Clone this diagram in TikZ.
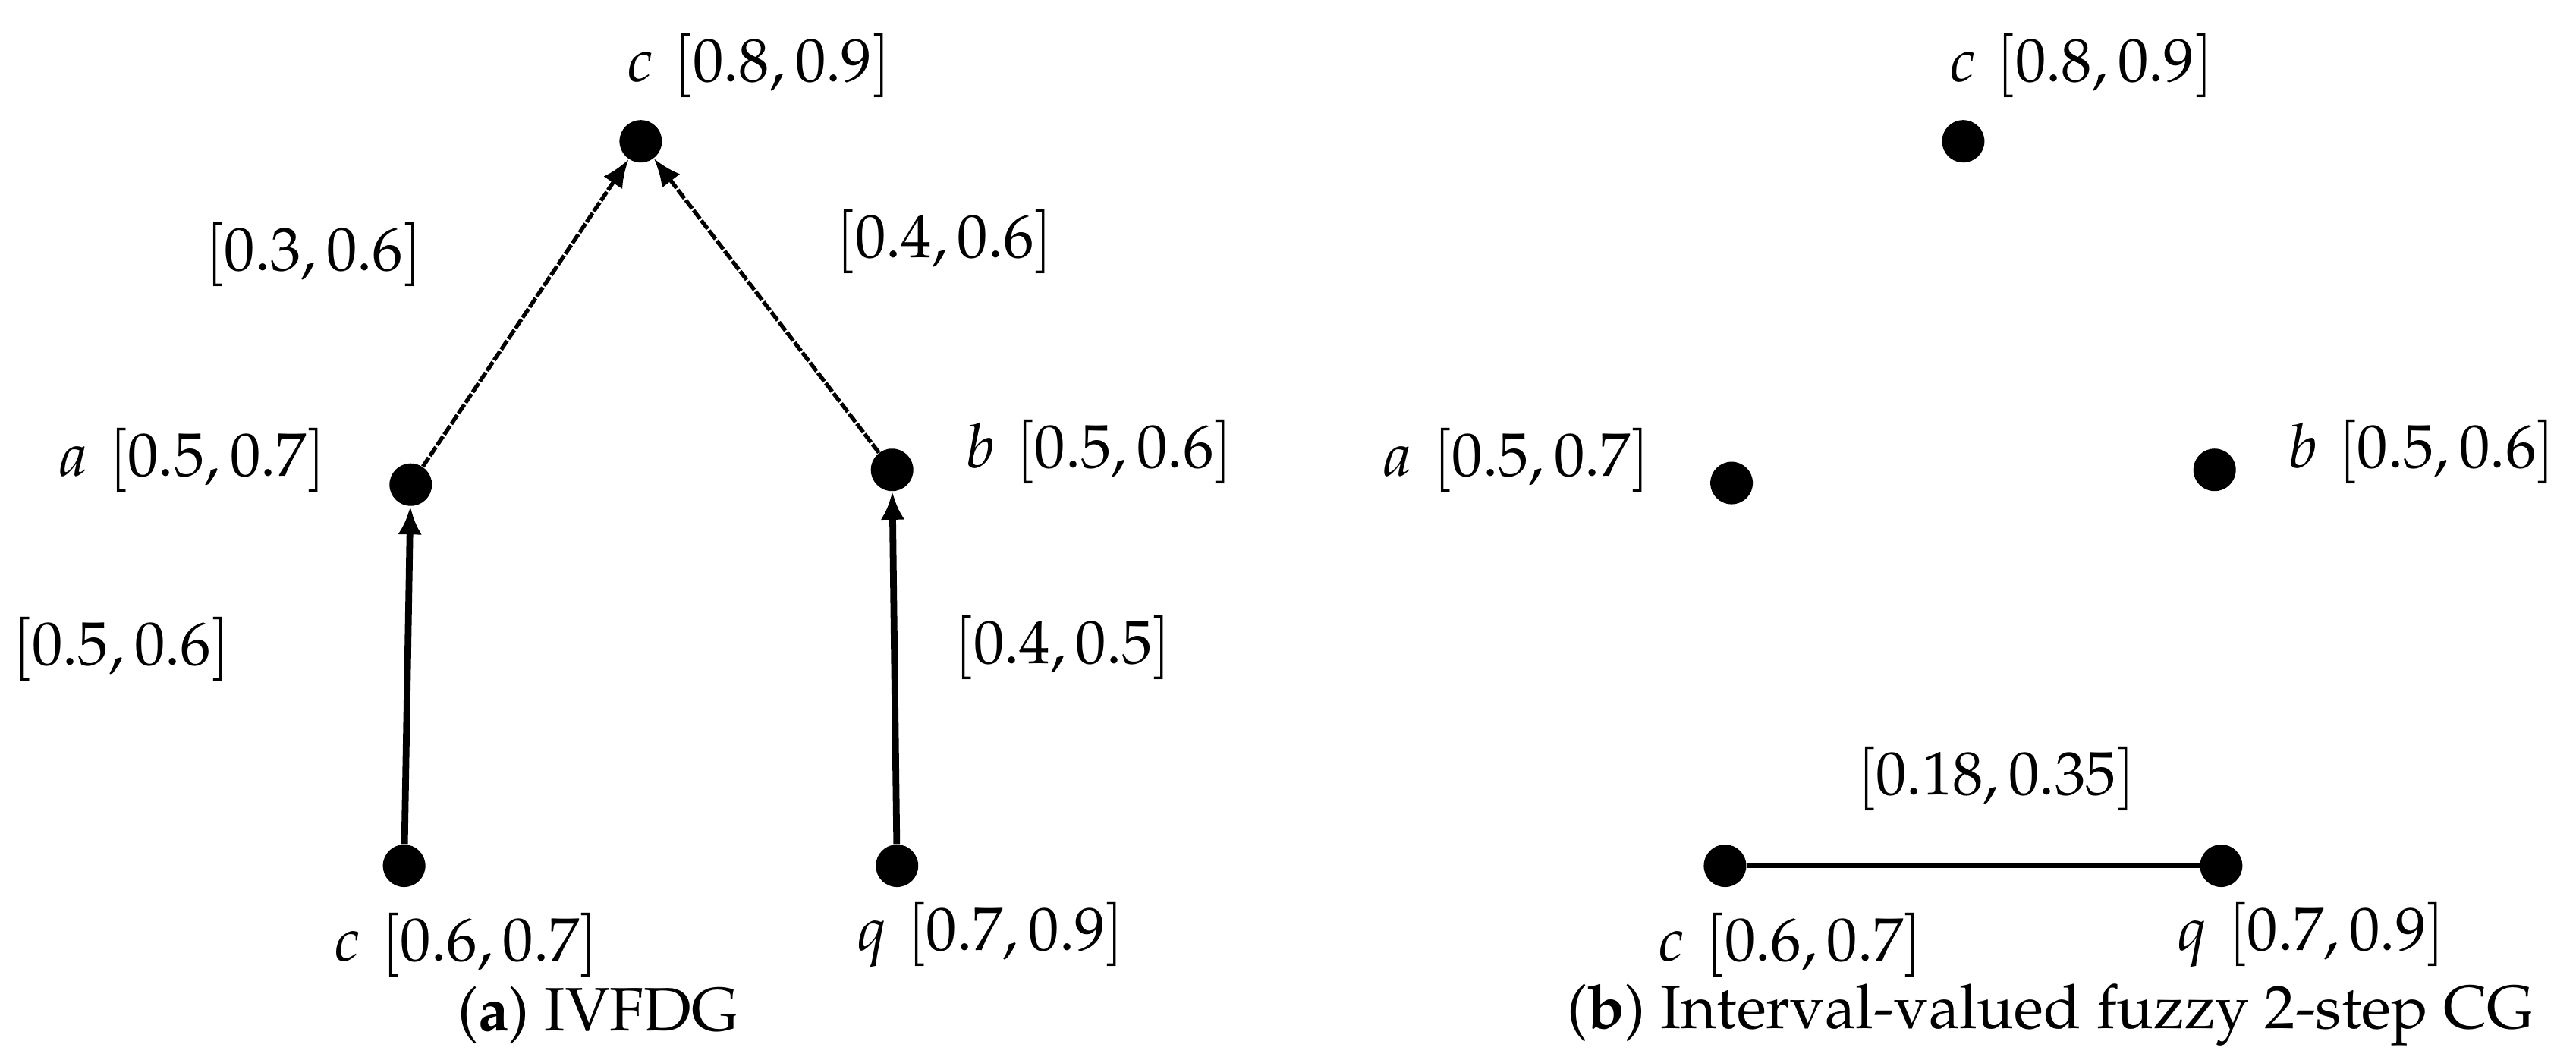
\documentclass[tikz,border=0pt]{standalone}
\usepackage[T1]{fontenc}
\usepackage{mathpazo}
\usetikzlibrary{arrows.meta}
\begin{document}
\begin{tikzpicture}[x=0.02165cm,y=-0.02165cm,
  dot/.style={circle,fill=black,inner sep=0pt,minimum size=0.56cm},
  lbl/.style={inner sep=0pt,font=\fontsize{23}{27}\selectfont},
  dashedge/.style={line width=1.5pt,dash pattern=on 4pt off 0.8pt,-{Latex[length=10.5pt,width=8.5pt]}},
  solidarrow/.style={line width=2.5pt,-{Latex[length=10.5pt,width=9pt]}},
  plainedge/.style={line width=1.9pt}]
\useasboundingbox (0,0) rectangle (1568,645);
% left panel
\node[dot] (lc) at (390,86) {};
\node[dot] (la) at (250,295) {};
\node[dot] (lb) at (543,286) {};
\node[dot] (lc2) at (246,527) {};
\node[dot] (lq) at (546,527) {};
\node[lbl] (llc) at (462,40) {$c\mkern6mu[0.8,0.9]$};
\node[lbl] (lla) at (117,280) {$a\mkern6mu[0.5,0.7]$};
\node[lbl] (llb) at (669,275) {$b\mkern6mu[0.5,0.6]$};
\node[lbl] (llc2) at (284,575) {$c\mkern6mu[0.6,0.7]$};
\node[lbl] (llq) at (603,569) {$q\mkern6mu[0.7,0.9]$};
\node[lbl] (e1) at (191,155) {$[0.3,0.6]$};
\node[lbl] (e2) at (575,147) {$[0.4,0.6]$};
\node[lbl] (e3) at (74,395) {$[0.5,0.6]$};
\node[lbl] (e4) at (647,394) {$[0.4,0.5]$};
\node[lbl] (capa) at (364,618) {(\textbf{a}) IVFDG};
\draw[dashedge] (la) -- (lc);
\draw[dashedge] (lb) -- (lc);
\draw[solidarrow] (lc2) -- (la);
\draw[solidarrow] (lq) -- (lb);
% right panel
\node[dot] (rc) at (1195,86) {};
\node[dot] (ra) at (1054,294) {};
\node[dot] (rb) at (1348,286) {};
\node[dot] (rc2) at (1050,527) {};
\node[dot] (rq) at (1352,527) {};
\node[lbl] (rlc) at (1267,40) {$c\mkern6mu[0.8,0.9]$};
\node[lbl] (rla) at (923,280) {$a\mkern6mu[0.5,0.7]$};
\node[lbl] (rlb) at (1474,275) {$b\mkern6mu[0.5,0.6]$};
\node[lbl] (rlc2) at (1090,575) {$c\mkern6mu[0.6,0.7]$};
\node[lbl] (rlq) at (1407,569) {$q\mkern6mu[0.7,0.9]$};
\node[lbl] (re) at (1215,474) {$[0.18,0.35]$};
\node[lbl] (capb) at (1248,618) {(\textbf{b}) Interval-valued fuzzy 2-step CG};
\draw[plainedge] (rc2) -- (rq);
\end{tikzpicture}
\end{document}
